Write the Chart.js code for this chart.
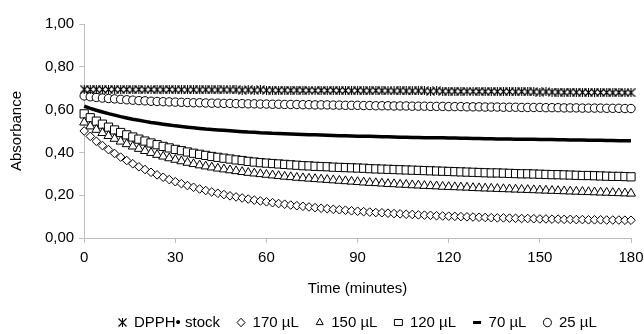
<!DOCTYPE html>
<html>
<head>
<meta charset="utf-8">
<script src="https://cdn.jsdelivr.net/npm/chart.js@4.4.1/dist/chart.umd.min.js"></script>
<style>
  html, body { margin: 0; padding: 0; background: #fff; }
  #wrap { width: 644px; height: 334px; }
</style>
</head>
<body>
<div id="wrap"><canvas id="absChart" width="644" height="334"></canvas></div>
<script>
// sampling times (minutes)
const times = [
  0, 2, 4, 6, 8, 10, 12, 14, 16, 18,
  20, 22, 24, 26, 28, 30, 32, 34, 36, 38,
  40, 42, 44, 46, 48, 50, 52, 54, 56, 58,
  60, 62, 64, 66, 68, 70, 72, 74, 76, 78,
  80, 82, 84, 86, 88, 90, 92, 94, 96, 98,
  100, 102, 104, 106, 108, 110, 112, 114, 116, 118,
  120, 122, 124, 126, 128, 130, 132, 134, 136, 138,
  140, 142, 144, 146, 148, 150, 152, 154, 156, 158,
  160, 162, 164, 166, 168, 170, 172, 174, 176, 178,
  180
];

const dpphStock = [
  0.695, 0.694, 0.695, 0.694, 0.694, 0.695, 0.694, 0.694, 0.693, 0.694,
  0.693, 0.694, 0.693, 0.693, 0.694, 0.693, 0.693, 0.692, 0.693, 0.692,
  0.693, 0.692, 0.692, 0.693, 0.692, 0.692, 0.691, 0.692, 0.691, 0.692,
  0.691, 0.691, 0.690, 0.691, 0.690, 0.691, 0.690, 0.690, 0.689, 0.690,
  0.689, 0.690, 0.689, 0.689, 0.688, 0.689, 0.688, 0.688, 0.689, 0.688,
  0.688, 0.687, 0.688, 0.687, 0.687, 0.688, 0.687, 0.686, 0.687, 0.686,
  0.686, 0.686, 0.685, 0.686, 0.685, 0.685, 0.684, 0.685, 0.684, 0.684,
  0.684, 0.683, 0.684, 0.683, 0.683, 0.682, 0.683, 0.682, 0.682, 0.681,
  0.682, 0.681, 0.681, 0.680, 0.681, 0.680, 0.680, 0.679, 0.680, 0.679,
  0.679
];

const ul170 = [
  0.500, 0.475, 0.452, 0.432, 0.413, 0.395, 0.378, 0.362, 0.347, 0.333,
  0.320, 0.307, 0.295, 0.284, 0.273, 0.263, 0.254, 0.245, 0.237, 0.229,
  0.222, 0.215, 0.209, 0.203, 0.197, 0.192, 0.187, 0.182, 0.177, 0.173,
  0.169, 0.165, 0.161, 0.158, 0.154, 0.151, 0.148, 0.145, 0.142, 0.139,
  0.137, 0.134, 0.132, 0.130, 0.127, 0.125, 0.123, 0.121, 0.119, 0.118,
  0.116, 0.114, 0.113, 0.111, 0.110, 0.108, 0.107, 0.106, 0.104, 0.103,
  0.102, 0.101, 0.100, 0.099, 0.098, 0.097, 0.096, 0.095, 0.094, 0.094,
  0.093, 0.092, 0.091, 0.091, 0.090, 0.089, 0.089, 0.088, 0.088, 0.087,
  0.087, 0.086, 0.086, 0.085, 0.085, 0.085, 0.084, 0.084, 0.084, 0.083,
  0.083
];

const ul150 = [
  0.540, 0.522, 0.506, 0.491, 0.477, 0.464, 0.451, 0.439, 0.428, 0.417,
  0.407, 0.398, 0.389, 0.381, 0.373, 0.366, 0.359, 0.352, 0.346, 0.340,
  0.335, 0.330, 0.325, 0.321, 0.317, 0.313, 0.309, 0.305, 0.302, 0.299,
  0.296, 0.293, 0.290, 0.287, 0.285, 0.282, 0.280, 0.278, 0.276, 0.274,
  0.272, 0.270, 0.268, 0.266, 0.264, 0.262, 0.260, 0.258, 0.257, 0.255,
  0.253, 0.252, 0.250, 0.249, 0.247, 0.246, 0.244, 0.243, 0.242, 0.240,
  0.239, 0.238, 0.237, 0.236, 0.234, 0.233, 0.232, 0.231, 0.230, 0.229,
  0.228, 0.227, 0.226, 0.225, 0.224, 0.223, 0.222, 0.221, 0.220, 0.219,
  0.218, 0.217, 0.216, 0.215, 0.214, 0.213, 0.212, 0.211, 0.210, 0.209,
  0.208
];

const ul120 = [
  0.580, 0.562, 0.546, 0.532, 0.518, 0.505, 0.493, 0.482, 0.472, 0.462,
  0.453, 0.444, 0.436, 0.428, 0.421, 0.414, 0.408, 0.402, 0.396, 0.391,
  0.386, 0.381, 0.377, 0.373, 0.369, 0.365, 0.362, 0.358, 0.355, 0.352,
  0.350, 0.348, 0.346, 0.344, 0.342, 0.340, 0.338, 0.337, 0.335, 0.334,
  0.333, 0.331, 0.330, 0.329, 0.328, 0.327, 0.326, 0.324, 0.323, 0.322,
  0.321, 0.320, 0.319, 0.318, 0.317, 0.316, 0.315, 0.314, 0.313, 0.312,
  0.311, 0.310, 0.309, 0.308, 0.307, 0.306, 0.305, 0.304, 0.304, 0.303,
  0.302, 0.301, 0.300, 0.300, 0.299, 0.298, 0.297, 0.296, 0.296, 0.295,
  0.294, 0.293, 0.292, 0.292, 0.291, 0.290, 0.289, 0.288, 0.288, 0.287,
  0.286
];

const ul70 = [
  0.616, 0.606, 0.597, 0.589, 0.581, 0.574, 0.567, 0.561, 0.555, 0.550,
  0.545, 0.540, 0.536, 0.532, 0.528, 0.524, 0.521, 0.518, 0.515, 0.512,
  0.509, 0.507, 0.505, 0.503, 0.501, 0.499, 0.497, 0.495, 0.494, 0.492,
  0.491, 0.489, 0.488, 0.487, 0.486, 0.485, 0.484, 0.483, 0.482, 0.481,
  0.480, 0.479, 0.478, 0.478, 0.477, 0.476, 0.475, 0.475, 0.474, 0.473,
  0.473, 0.472, 0.471, 0.471, 0.470, 0.470, 0.469, 0.469, 0.468, 0.468,
  0.467, 0.467, 0.466, 0.466, 0.465, 0.465, 0.464, 0.464, 0.463, 0.463,
  0.463, 0.462, 0.462, 0.461, 0.461, 0.460, 0.460, 0.460, 0.459, 0.459,
  0.458, 0.458, 0.458, 0.457, 0.457, 0.457, 0.456, 0.456, 0.455, 0.455,
  0.455
];

const ul25 = [
  0.664, 0.660, 0.657, 0.654, 0.652, 0.650, 0.648, 0.646, 0.644, 0.642,
  0.641, 0.639, 0.638, 0.637, 0.636, 0.635, 0.634, 0.633, 0.632, 0.632,
  0.631, 0.630, 0.630, 0.629, 0.629, 0.628, 0.628, 0.627, 0.627, 0.626,
  0.626, 0.625, 0.625, 0.624, 0.624, 0.624, 0.623, 0.623, 0.622, 0.622,
  0.622, 0.621, 0.621, 0.620, 0.620, 0.620, 0.619, 0.619, 0.618, 0.618,
  0.618, 0.617, 0.617, 0.617, 0.616, 0.616, 0.616, 0.615, 0.615, 0.615,
  0.614, 0.614, 0.614, 0.613, 0.613, 0.613, 0.612, 0.612, 0.612, 0.611,
  0.611, 0.611, 0.610, 0.610, 0.610, 0.610, 0.609, 0.609, 0.609, 0.608,
  0.608, 0.608, 0.607, 0.607, 0.607, 0.607, 0.606, 0.606, 0.606, 0.605,
  0.605
];

const seriesNames = ['DPPH\u2022 stock', '170 \u00b5L', '150 \u00b5L', '120 \u00b5L', '70 \u00b5L', '25 \u00b5L'];

const xTicks = [0, 30, 60, 90, 120, 150, 180];
const yTicks = [0, 0.2, 0.4, 0.6, 0.8, 1.0];
const yTickLabels = ['0,00', '0,20', '0,40', '0,60', '0,80', '1,00'];

// --- Excel-like star marker (X with a vertical bar) ---
const starMarker = document.createElement('canvas');
starMarker.width = 9;
starMarker.height = 9;
(function () {
  const c = starMarker.getContext('2d');
  c.strokeStyle = '#000';
  c.lineWidth = 1.1;
  c.beginPath();
  c.moveTo(0.5, 0.5); c.lineTo(8.5, 8.5);
  c.moveTo(8.5, 0.5); c.lineTo(0.5, 8.5);
  c.moveTo(4.5, 0); c.lineTo(4.5, 9);
  c.stroke();
})();

function toPoints(values) {
  return times.map((t, i) => ({ x: t, y: values[i] }));
}

function markerSet(label, values, style, radius) {
  return {
    label: label,
    data: toPoints(values),
    showLine: false,
    pointStyle: style,
    pointRadius: radius,
    pointHoverRadius: radius,
    pointBackgroundColor: '#ffffff',
    pointBorderColor: '#000000',
    pointBorderWidth: 1,
    backgroundColor: '#ffffff',
    borderColor: '#000000',
    clip: false
  };
}

const font = { family: '"Liberation Sans", Arial, sans-serif', size: 15 };
const axisGray = '#bdbdbd';

new Chart(document.getElementById('absChart'), {
  type: 'line',
  data: {
    datasets: [
      markerSet(seriesNames[0], dpphStock, starMarker, 4.5),
      markerSet(seriesNames[1], ul170, 'rectRot', 4.3),
      markerSet(seriesNames[2], ul150, 'triangle', 5.2),
      markerSet(seriesNames[3], ul120, 'rect', 5.8),
      {
        label: seriesNames[4],
        data: toPoints(ul70),
        showLine: true,
        borderColor: '#000000',
        backgroundColor: '#000000',
        borderWidth: 3.5,
        pointStyle: 'line',
        pointRadius: 0,
        pointBorderColor: '#000000',
        pointBackgroundColor: '#000000',
        pointBorderWidth: 3,
        tension: 0,
        clip: false
      },
      markerSet(seriesNames[5], ul25, 'circle', 4.2)
    ]
  },
  options: {
    responsive: false,
    animation: false,
    layout: { padding: { left: 8, right: 0, top: 24, bottom: -6 } },
    scales: {
      x: {
        type: 'linear',
        min: 0,
        max: 180,
        afterBuildTicks: axis => { axis.ticks = xTicks.map(v => ({ value: v })); },
        afterFit: axis => { axis.paddingRight = 13; },
        grid: { drawOnChartArea: false, drawTicks: true, tickLength: 5, color: axisGray },
        border: { color: axisGray, width: 1 },
        ticks: { color: '#000', font: font, padding: 6, maxRotation: 0 },
        title: { display: true, text: 'Time (minutes)', color: '#000', font: font, padding: { top: 7, bottom: 0 } }
      },
      y: {
        min: 0,
        max: 1,
        afterBuildTicks: axis => { axis.ticks = yTicks.map(v => ({ value: v })); },
        grid: { drawOnChartArea: false, drawTicks: true, tickLength: 5, color: axisGray },
        border: { color: axisGray, width: 1 },
        ticks: { color: '#000', font: font, padding: 5, callback: (v, i) => yTickLabels[i] },
        title: { display: true, text: 'Absorbance', color: '#000', font: font, padding: { top: 0, bottom: 14 } }
      }
    },
    plugins: {
      legend: {
        position: 'bottom',
        fullSize: false,
        labels: { usePointStyle: true, pointStyleWidth: 8, boxHeight: 6, color: '#000', font: font, padding: 17 }
      },
      tooltip: { enabled: false }
    }
  }
});
</script>
</body>
</html>
